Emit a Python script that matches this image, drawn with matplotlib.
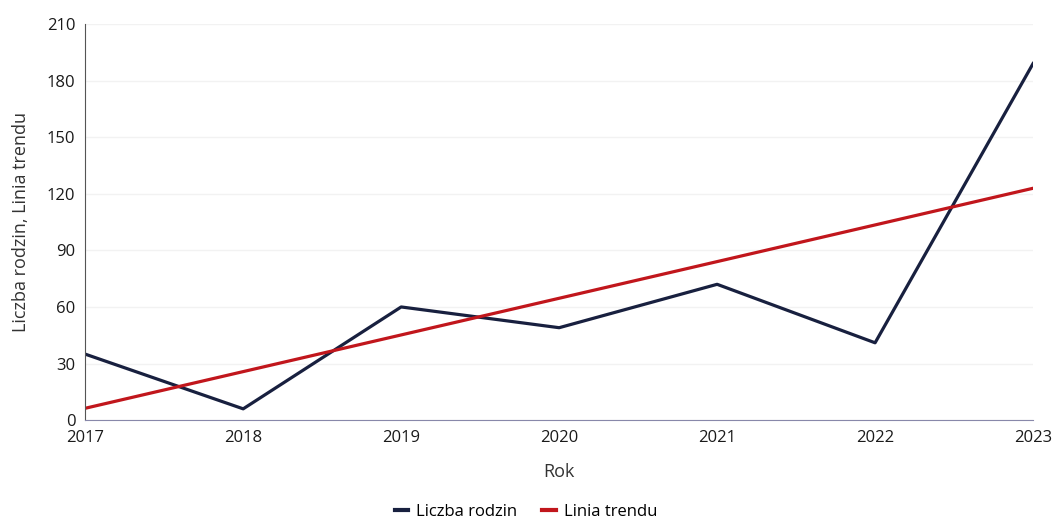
import matplotlib
matplotlib.use("Agg")
import matplotlib.pyplot as plt

plt.rcParams['font.family'] = ['Open Sans', 'DejaVu Sans']

# data
years = [2017, 2018, 2019, 2020, 2021, 2022, 2023]
families = [35, 6, 60, 49, 72, 41, 189]
trend_years = [2017, 2023]
trend_values = [6.3, 122.9]

navy = '#18203f'
red = '#c1161c'

fig = plt.figure(figsize=(10.52, 5.2), dpi=100)
ax = fig.add_axes([0.081, 0.192, 0.901, 0.762])

ax.plot(years, families, color=navy, lw=2.3, label='Liczba rodzin')
ax.plot(trend_years, trend_values, color=red, lw=2.3, label='Linia trendu')

ax.set_xlim(2017, 2023)
ax.set_ylim(0, 210)
ax.set_yticks(range(0, 211, 30))
ax.set_xticks(years)
ax.tick_params(length=0, labelsize=12, colors='#1a1a1a', pad=7)
ax.grid(axis='y', color='#f2f2f2', lw=1)
ax.set_axisbelow(True)

for s in ['top', 'right']:
    ax.spines[s].set_visible(False)
ax.spines['left'].set_color('#555555')
ax.spines['bottom'].set_color('#8888aa')
ax.spines['left'].set_linewidth(0.8)
ax.spines['bottom'].set_linewidth(0.8)

ax.set_xlabel('Rok', fontsize=13, color='#333333', labelpad=12)
ax.set_ylabel('Liczba rodzin, Linia trendu', fontsize=13, color='#333333', labelpad=12)

fig.legend(loc='lower center', bbox_to_anchor=(0.5, -0.028), ncol=2, frameon=False,
           fontsize=12, handlelength=0.8, handletextpad=0.5, columnspacing=1.5)
leg = fig.legends[0]
for h in leg.get_lines():
    h.set_linewidth(3)

fig.savefig('out.png', dpi=100)
